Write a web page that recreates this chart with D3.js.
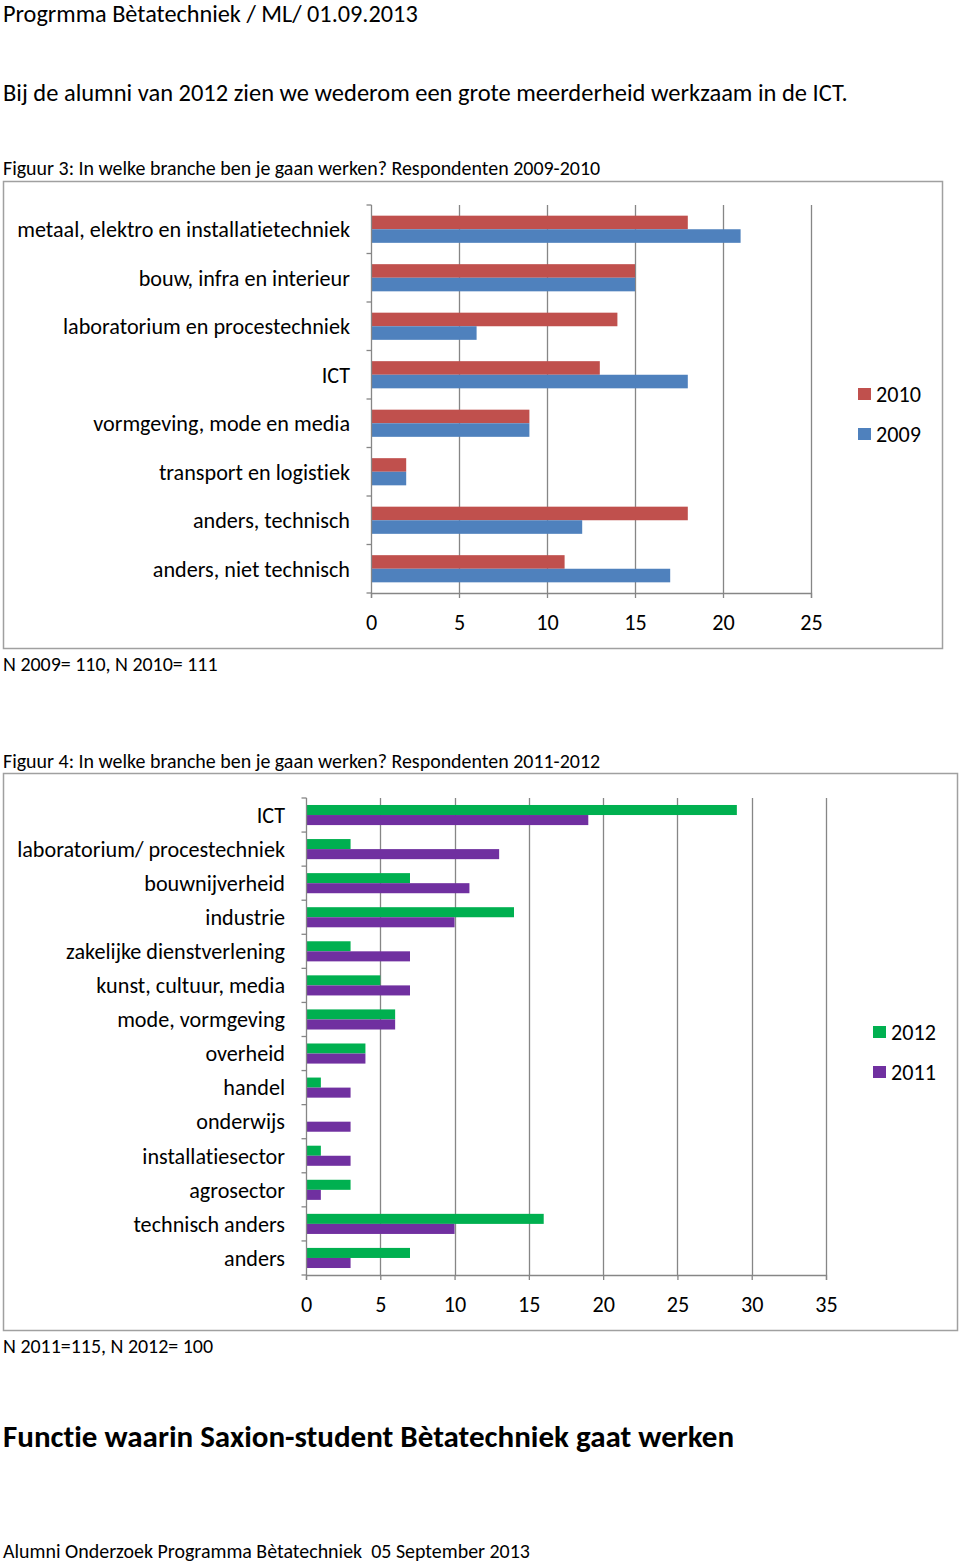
<!DOCTYPE html>
<html>
<head>
<meta charset="utf-8">
<script src="https://cdn.jsdelivr.net/npm/d3@7"></script>
<style>
  html, body { margin: 0; padding: 0; background: #ffffff; }
  svg { display: block; }
  text { font-family: Carlito, Lato, "Open Sans", sans-serif; fill: #000; font-variant-ligatures: none; white-space: pre; }
</style>
</head>
<body>
<script>
// ---------- DATA ----------
const categories1 = [
  "metaal, elektro en installatietechniek",
  "bouw, infra en interieur",
  "laboratorium en procestechniek",
  "ICT",
  "vormgeving, mode en media",
  "transport en logistiek",
  "anders, technisch",
  "anders, niet technisch"
];
const values2010 = [18, 15, 14, 13, 9, 2, 18, 11];
const values2009 = [21, 15, 6, 18, 9, 2, 12, 17];
const ticks1 = [0, 5, 10, 15, 20, 25];

const categories2 = [
  "ICT",
  "laboratorium/ procestechniek",
  "bouwnijverheid",
  "industrie",
  "zakelijke dienstverlening",
  "kunst, cultuur, media",
  "mode, vormgeving",
  "overheid",
  "handel",
  "onderwijs",
  "installatiesector",
  "agrosector",
  "technisch anders",
  "anders"
];
const values2012 = [29, 3, 7, 14, 3, 5, 6, 4, 1, 0, 1, 3, 16, 7];
const values2011 = [19, 13, 11, 10, 7, 7, 6, 4, 3, 3, 3, 1, 10, 3];
const ticks2 = [0, 5, 10, 15, 20, 25, 30, 35];

const seriesNames1 = ["2010", "2009"];
const seriesNames2 = ["2012", "2011"];

// ---------- SETUP ----------
const W = 960, H = 1563;
const svg = d3.select("body").append("svg").attr("width", W).attr("height", H);

// Calibri-size emulation factor: measure a reference string
const probe = svg.append("text").attr("font-size", 21).text(categories1[0]);
const f = 333 / probe.node().getComputedTextLength();
probe.remove();
const fs = s => s * f;

const GRID = "#868686";
const FRAME = "#a0a0a0";

function docText(x, y, str, size, bold) {
  svg.append("text")
    .attr("x", x).attr("y", y)
    .attr("font-size", fs(size))
    .attr("font-weight", bold ? "bold" : "normal")
    .text(str);
}

// ---------- DOCUMENT TEXT ----------
docText(3, 22, "Progrmma Bètatechniek / ML/ 01.09.2013", 23);
docText(3, 101, "Bij de alumni van 2012 zien we wederom een grote meerderheid werkzaam in de ICT.", 23.2);
docText(3, 175, "Figuur 3: In welke branche ben je gaan werken? Respondenten 2009-2010", 18.9);
docText(3, 671, "N 2009= 110, N 2010= 111", 18.9);
docText(3, 768, "Figuur 4: In welke branche ben je gaan werken? Respondenten 2011-2012", 18.9);
docText(3, 1353, "N 2011=115, N 2012= 100", 18.9);
docText(3, 1447, "Functie waarin Saxion-student Bètatechniek gaat werken", 29.4, true);
docText(3, 1558, "Alumni Onderzoek Programma Bètatechniek  05 September 2013", 18.9);

// ---------- CHART FUNCTION ----------
function drawChart(o) {
  const g = svg.append("g");
  // frame
  g.append("rect")
    .attr("x", o.frame[0] + 0.5).attr("y", o.frame[1] + 0.5)
    .attr("width", o.frame[2]).attr("height", o.frame[3])
    .attr("fill", "#fff").attr("stroke", FRAME).attr("stroke-width", 1.5);

  const x = d3.scaleLinear().domain([0, o.ticks[o.ticks.length - 1]]).range([o.x0, o.x1]);
  const y = d3.scaleBand().domain(o.categories).range([o.y0, o.y1])
    .paddingInner(o.pad).paddingOuter(o.pad / 2);
  const ySub = d3.scaleBand().domain(o.series).range([0, y.bandwidth()]);

  // gridlines
  g.append("g").selectAll("line").data(o.ticks.slice(1)).join("line")
    .attr("x1", d => Math.round(x(d)) + 0.5).attr("x2", d => Math.round(x(d)) + 0.5)
    .attr("y1", o.y0).attr("y2", o.y1)
    .attr("stroke", GRID).attr("stroke-width", 1.3);

  // bars
  const rows = o.categories.map((c, i) => ({ c, vals: o.series.map((s, j) => ({ s, v: o.values[j][i], color: o.colors[j] })) }));
  const rg = g.append("g").selectAll("g").data(rows).join("g")
    .attr("transform", d => `translate(0,${y(d.c)})`);
  rg.selectAll("rect").data(d => d.vals).join("rect")
    .attr("x", x(0))
    .attr("y", d => ySub(d.s))
    .attr("width", d => x(d.v) - x(0))
    .attr("height", ySub.bandwidth())
    .attr("fill", d => d.color);

  // y axis line + ticks at band boundaries
  const yb = Math.round(x(0)) + 0.5;
  g.append("line").attr("x1", yb).attr("x2", yb).attr("y1", o.y0).attr("y2", o.y1)
    .attr("stroke", GRID).attr("stroke-width", 1.3);
  const bounds = o.categories.map(c => y(c) - y.step() * o.pad / 2).concat([o.y1]);
  g.append("g").selectAll("line").data(bounds).join("line")
    .attr("x1", yb - 5).attr("x2", yb).attr("y1", d => d).attr("y2", d => d)
    .attr("stroke", GRID).attr("stroke-width", 1.3);

  // x axis
  const xAxis = d3.axisBottom(x).tickValues(o.ticks).tickSize(5).tickPadding(o.tickPad);
  const ax = g.append("g").attr("transform", `translate(0,${o.y1})`).call(xAxis);
  ax.select(".domain").attr("stroke", GRID).attr("stroke-width", 1.3);
  ax.selectAll(".tick line").attr("stroke", GRID).attr("stroke-width", 1.3);
  ax.selectAll(".tick text").attr("font-size", fs(21)).attr("font-family", null).attr("fill", "#000");
  ax.attr("font-family", null);

  // category labels
  g.append("g").selectAll("text").data(o.categories).join("text")
    .attr("x", o.labelX)
    .attr("y", d => y(d) + y.bandwidth() / 2)
    .attr("dy", "0.35em")
    .attr("text-anchor", "end")
    .attr("font-size", fs(21))
    .text(d => d);

  // legend
  const lg = g.append("g").selectAll("g").data(o.series).join("g")
    .attr("transform", (d, i) => `translate(${o.legend[0]},${o.legend[1] + i * 40})`);
  lg.append("rect").attr("x", 0).attr("y", -6).attr("width", 13).attr("height", 12)
    .attr("fill", (d, i) => o.colors[i]);
  lg.append("text").attr("x", 18).attr("y", 0).attr("dy", "0.35em")
    .attr("font-size", fs(21)).text(d => d);
}

drawChart({
  frame: [3, 181, 939, 467],
  categories: categories1,
  series: seriesNames1,
  values: [values2010, values2009],
  colors: ["#C0504D", "#4F81BD"],
  ticks: ticks1,
  x0: 371, x1: 811, y0: 205, y1: 593,
  pad: 0.44,
  labelX: 350,
  tickPad: 16,
  legend: [858, 394]
});

drawChart({
  frame: [3, 773, 954, 557],
  categories: categories2,
  series: seriesNames2,
  values: [values2012, values2011],
  colors: ["#00B050", "#7030A0"],
  ticks: ticks2,
  x0: 306, x1: 826, y0: 798, y1: 1275,
  pad: 0.41,
  labelX: 285,
  tickPad: 16,
  legend: [873, 1032]
});
</script>
</body>
</html>
